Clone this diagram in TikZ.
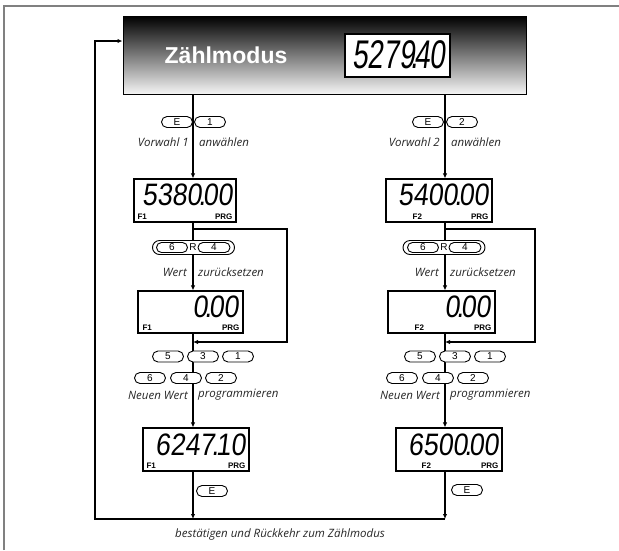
\documentclass[tikz,border=0pt]{standalone}
\usepackage{fontspec}
\setmainfont{Liberation Sans}
\newfontfamily\itfont{Open Sans}
\newfontfamily\segA{Liberation Sans}[FakeStretch=0.86,FakeSlant=0.12]
\newfontfamily\segB{Liberation Sans}[FakeStretch=0.7,FakeSlant=0.12]
\usetikzlibrary{shapes.misc,arrows.meta}
\tikzset{
  ln/.style={line width=1.1pt,black},
  arr/.style={ln,-{Latex[length=5pt,width=4.5pt]}},
  disp/.style={draw,line width=1.2pt,fill=white,rectangle,inner sep=0pt},
  digs/.style={inner sep=0pt,anchor=base east,text depth=0pt,font=\segA\fontsize{31}{31}\selectfont},
  lab/.style={inner sep=0pt,anchor=base,text depth=0pt,font=\bfseries\fontsize{8}{8}\selectfont},
  pill/.style={draw,fill=white,rounded rectangle,line width=0.9pt,minimum width=31pt,minimum height=11pt,inner sep=0pt,font=\fontsize{10}{10}\selectfont},
  note/.style={inner sep=0pt,font=\itfont\itshape\fontsize{11.5}{13}\selectfont,text=black!85},
}
\newcommand{\segpt}{\kern-.1em.\kern-.1em}
\begin{document}
\begin{tikzpicture}[x=1pt,y=-1pt]
\useasboundingbox (0,0) rectangle (619,550);
% frame
\draw[gray,line width=1.5pt] (4,550) -- (4,6) -- (619,6);
% column coordinates
\coordinate (cL) at (193,0);
\coordinate (cR) at (445,0);
% header
\node[draw=black,line width=1pt,top color=black,bottom color=white!96!black,minimum width=403pt,minimum height=78pt,inner sep=0pt] (hdr) at (324.5,55) {};
\node[text=white,font=\bfseries\fontsize{23}{23}\selectfont,inner sep=0pt] (zm) at (226,55) {Zählmodus};
\node[disp,line width=1.5pt,minimum width=105pt,minimum height=43pt] (hd) at (397.5,55.5) {};
\node[digs,font=\segB\fontsize{40}{40}\selectfont] (hdt) at ([xshift=-5pt,yshift=9pt]hd.south east) {5279\segpt40};
% displays
\node[disp,minimum width=102pt,minimum height=43pt] (d1) at (185,200.5) {};
\node[disp,minimum width=106pt,minimum height=43pt] (d2) at (439,200.5) {};
\node[disp,minimum width=105pt,minimum height=42pt] (z1) at (190.5,312) {};
\node[disp,minimum width=107pt,minimum height=42pt] (z2) at (441.5,312) {};
\node[disp,minimum width=106pt,minimum height=43pt] (d3) at (196,449.5) {};
\node[disp,minimum width=106pt,minimum height=43pt] (d4) at (449,449.5) {};
% display contents
\node[digs] (d1t) at ([xshift=-4pt,yshift=-27pt]d1.north east) {5380\segpt00};
\node[lab,anchor=base west] (d1a) at ([xshift=4pt,yshift=3pt]d1.south west) {F1};
\node[lab,anchor=base east] (d1b) at ([xshift=-4pt,yshift=3pt]d1.south east) {PRG};
\node[digs] (d2t) at ([xshift=-4pt,yshift=-27pt]d2.north east) {5400\segpt00};
\node[lab] (d2a) at ([xshift=32pt,yshift=3pt]d2.south west) {F2};
\node[lab,anchor=base east] (d2b) at ([xshift=-4pt,yshift=3pt]d2.south east) {PRG};
\node[digs] (z1t) at ([xshift=-5pt,yshift=-27pt]z1.north east) {0\segpt00};
\node[lab,anchor=base west] (z1a) at ([xshift=5pt,yshift=3pt]z1.south west) {F1};
\node[lab,anchor=base east] (z1b) at ([xshift=-4pt,yshift=3pt]z1.south east) {PRG};
\node[digs] (z2t) at ([xshift=-5pt,yshift=-27pt]z2.north east) {0\segpt00};
\node[lab] (z2a) at ([xshift=32pt,yshift=3pt]z2.south west) {F2};
\node[lab,anchor=base east] (z2b) at ([xshift=-4pt,yshift=3pt]z2.south east) {PRG};
\node[digs] (d3t) at ([xshift=-4pt,yshift=-28pt]d3.north east) {6247\segpt10};
\node[lab,anchor=base west] (d3a) at ([xshift=4pt,yshift=3pt]d3.south west) {F1};
\node[lab,anchor=base east] (d3b) at ([xshift=-4pt,yshift=3pt]d3.south east) {PRG};
\node[digs] (d4t) at ([xshift=-4pt,yshift=-28pt]d4.north east) {6500\segpt00};
\node[lab] (d4a) at ([xshift=31pt,yshift=3pt]d4.south west) {F2};
\node[lab,anchor=base east] (d4b) at ([xshift=-4pt,yshift=3pt]d4.south east) {PRG};
% helper coordinates
\coordinate (lL) at (287,229);
\coordinate (lR) at (535,229);
\coordinate (jL) at (193,342);
\coordinate (jR) at (445,342);
\coordinate (bL) at (193,519);
\coordinate (bR) at (445,519);
\coordinate (cn) at (95,519);
\coordinate (ct) at (95,41);
% connectors
\draw[arr] (hdr.south -| cL) -- (d1.north -| cL);
\draw[arr] (hdr.south -| cR) -- (d2.north -| cR);
\draw[arr] (d1.south -| cL) -- (z1.north -| cL);
\draw[arr] (d2.south -| cR) -- (z2.north -| cR);
\draw[arr] (lL -| cL) -- (lL) |- (jL);
\draw[arr] (lR -| cR) -- (lR) |- (jR);
\draw[arr] (z1.south -| cL) -- (d3.north -| cL);
\draw[arr] (z2.south -| cR) -- (d4.north -| cR);
\draw[arr] (d3.south -| cL) -- (bL);
\draw[arr] (d4.south -| cR) -- (bR);
\draw[arr] (bR) -- (cn) -- (ct) -- (hdr.west |- ct);
% pills
\node[pill] (pe1) at (177,122) {E};
\node[pill] (p1) at (210,122) {1};
\node[pill] (pe2) at (428,122) {E};
\node[pill] (p2) at (462,122) {2};
\node[pill,minimum width=82pt,minimum height=14pt] (r1) at (193.5,247.5) {};
\node[pill,minimum width=31pt,minimum height=10pt] (r1a) at (172,247.5) {6};
\node[pill,minimum width=32pt,minimum height=10pt] (r1b) at (214,247.5) {4};
\node[inner sep=0pt,font=\fontsize{10}{10}\selectfont] (r1r) at (193,247.5) {R};
\node[pill,minimum width=82pt,minimum height=14pt] (r2) at (444,247.5) {};
\node[pill,minimum width=31pt,minimum height=10pt] (r2a) at (423,247.5) {6};
\node[pill,minimum width=32pt,minimum height=10pt] (r2b) at (465,247.5) {4};
\node[inner sep=0pt,font=\fontsize{10}{10}\selectfont] (r2r) at (444,247.5) {R};
\node[pill] (a5) at (168,356.5) {5};
\node[pill] (a3) at (203,356.5) {3};
\node[pill] (a1) at (238,356.5) {1};
\node[pill] (a6) at (150,378) {6};
\node[pill] (a4) at (186,378) {4};
\node[pill] (a2) at (221,378) {2};
\node[pill] (b5) at (420,356.5) {5};
\node[pill] (b3) at (455,356.5) {3};
\node[pill] (b1) at (490,356.5) {1};
\node[pill] (b6) at (402,378) {6};
\node[pill] (b4) at (438,378) {4};
\node[pill] (b2) at (473,378) {2};
\node[pill] (ee1) at (212,491) {E};
\node[pill] (ee2) at (467,490) {E};
% notes
\node[note,anchor=east] (t1) at (189,142) {Vorwahl 1};
\node[note,anchor=west] (t2) at (199,142) {anwählen};
\node[note,anchor=east] (t3) at (440,142) {Vorwahl 2};
\node[note,anchor=west] (t4) at (451,142) {anwählen};
\node[note,anchor=east] (t5) at (187,272) {Wert};
\node[note,anchor=west] (t6) at (198,272) {zurücksetzen};
\node[note,anchor=east] (t7) at (439,272) {Wert};
\node[note,anchor=west] (t8) at (450,272) {zurücksetzen};
\node[note,anchor=east] (t9) at (188,395) {Neuen Wert};
\node[note,anchor=west] (t10) at (198,395) {programmieren};
\node[note,anchor=east] (t11) at (440,395) {Neuen Wert};
\node[note,anchor=west] (t12) at (450,395) {programmieren};
\node[note,anchor=west] (t13) at (175,535) {bestätigen und Rückkehr zum Zählmodus};
\end{tikzpicture}
\end{document}
